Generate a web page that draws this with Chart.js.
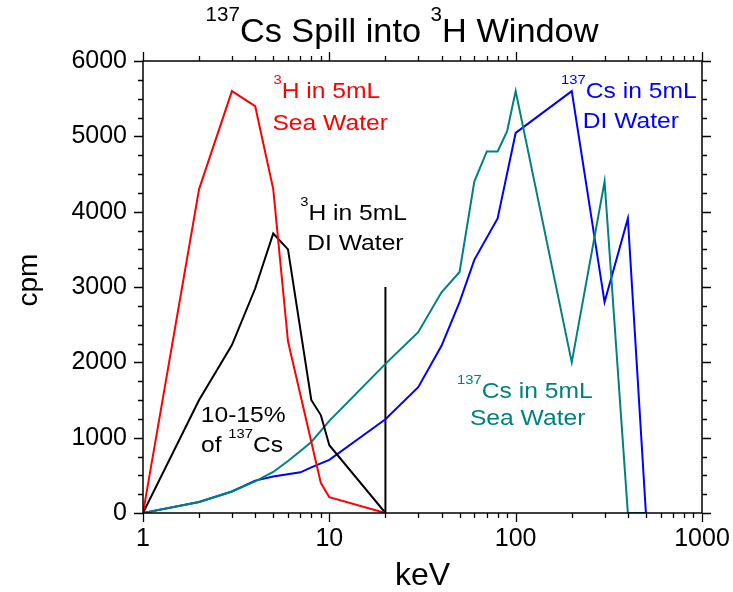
<!DOCTYPE html>
<html>
<head>
<meta charset="utf-8">
<title>137Cs Spill into 3H Window</title>
<script src="https://cdn.jsdelivr.net/npm/chart.js@4.4.1/dist/chart.umd.min.js"></script>
<style>
    html, body { margin: 0; padding: 0; background: #fff; }
    canvas { display: block; }
</style>
</head>
<body>
<canvas id="spillChart" width="733" height="592"></canvas>
<script>
const FONT = '"Liberation Sans", Arial, sans-serif';

// values (keV on a log axis, cpm)
const h3SeaKeV = [1, 2, 3, 4, 5, 6, 9, 10, 20];
const h3SeaCpm = [0, 4300, 5600, 5400, 4300, 2280, 400, 210, 0];

const h3DiKeV = [1, 2, 3, 4, 5, 6, 8, 9, 10, 20];
const h3DiCpm = [0, 1500, 2230, 2980, 3710, 3500, 1500, 1300, 900, 0];

const csSeaKeV = [1, 2, 3, 4, 5, 6, 7, 8, 9, 10, 20, 30, 40, 50, 60, 70, 80, 90, 100, 200, 300, 400, 500];
const csSeaCpm = [0, 145, 285, 420, 545, 690, 823, 943, 1090, 1223, 1980, 2400, 2930, 3200, 4400, 4800, 4800, 5070, 5600, 2000, 4400, 0, 0];

const csDiKeV = [1, 2, 3, 4, 5, 7, 8, 10, 20, 30, 40, 50, 60, 80, 100, 200, 300, 400, 500];
const csDiCpm = [0, 145, 285, 430, 485, 540, 605, 705, 1245, 1670, 2220, 2800, 3360, 3910, 5045, 5600, 2800, 3910, 0];

// the 3H window edge
const windowKeV = [20, 20];
const windowCpm = [0, 3000];

const xTickLabels = [1, 10, 100, 1000];
const yTicks = [0, 1000, 2000, 3000, 4000, 5000, 6000];

// text labels, {n} = superscript
const noteLines = [
    '{3}H in 5mL', 'Sea Water',
    '{3}H in 5mL', 'DI Water',
    '{137}Cs in 5mL', 'DI Water',
    '{137}Cs in 5mL', 'Sea Water',
    '10-15%', 'of {137}Cs'
];
const noteKeV = [9.7, 10.1, 13.5, 13.8, 405, 415, 112, 116, 3.45, 3.4];
const noteCpm = [5505, 5085, 3890, 3490, 5505, 5107, 1523, 1168, 1212, 814];
const noteColors = ['#ff0000', '#ff0000', '#000000', '#000000', '#0000ff', '#0000ff',
    '#008080', '#008080', '#000000', '#000000'];

function pts(xs, ys) {
    return xs.map((x, i) => ({x: x, y: ys[i]}));
}

function parseRich(str) {
    let parts = [];
    str.split(/(\{\d+\})/).forEach(s => {
        if (!s) return;
        if (s[0] === '{') parts.push({t: s.slice(1, -1), sup: true});
        else parts.push({t: s, sup: false});
    });
    return parts;
}

function drawRich(ctx, str, cx, y, size, color, stretch) {
    let parts = parseRich(str);
    ctx.save();
    ctx.translate(cx, y);
    ctx.scale(stretch, 1);
    ctx.fillStyle = color;
    ctx.textAlign = 'left';
    ctx.textBaseline = 'alphabetic';
    let w = 0;
    parts.forEach(p => {
        ctx.font = (p.sup ? size * 0.6 : size) + 'px ' + FONT;
        w += ctx.measureText(p.t).width;
    });
    let x = -w / 2;
    parts.forEach(p => {
        ctx.font = (p.sup ? size * 0.6 : size) + 'px ' + FONT;
        ctx.fillText(p.t, x, p.sup ? -size * 0.64 : 0);
        x += ctx.measureText(p.t).width;
    });
    ctx.restore();
}

const frameText = {
    id: 'frameText',
    afterDraw(chart) {
        const ctx = chart.ctx;
        const a = chart.chartArea;
        const xs = chart.scales.x;
        const ys = chart.scales.y;

        ctx.save();
        ctx.strokeStyle = '#000';
        ctx.lineWidth = 1.5;
        ctx.strokeRect(a.left, a.top, a.right - a.left, a.bottom - a.top);

        // ticks on all four sides, pointing out
        ctx.beginPath();
        for (let d = 1; d <= 1000; d *= 10) {
            for (let m = 1; m <= 9; m++) {
                let v = d * m;
                if (v > 1000) break;
                let px = Math.round(xs.getPixelForValue(v)) + 0.5;
                let len = m === 1 ? 9 : 5;
                ctx.moveTo(px, a.bottom);
                ctx.lineTo(px, a.bottom + len);
                ctx.moveTo(px, a.top);
                ctx.lineTo(px, a.top - len);
            }
        }
        for (let v = 0; v <= 6000; v += 250) {
            let py = Math.round(ys.getPixelForValue(v)) + 0.5;
            let len = v % 1000 === 0 ? 9 : 5;
            ctx.moveTo(a.left, py);
            ctx.lineTo(a.left - len, py);
            ctx.moveTo(a.right, py);
            ctx.lineTo(a.right + len, py);
        }
        ctx.lineWidth = 1.3;
        ctx.stroke();
        ctx.restore();

        // title
        drawRich(ctx, '{137}Cs Spill into {3}H Window', 402, 42, 33, '#000', 1.04);

        // axis titles
        drawRich(ctx, 'keV', (a.left + a.right) / 2, 585, 32, '#000', 1.0);
        ctx.save();
        ctx.translate(37, (a.top + a.bottom) / 2 - 7);
        ctx.rotate(-Math.PI / 2);
        drawRich(ctx, 'cpm', 0, 0, 28, '#000', 1.0);
        ctx.restore();

        // series labels
        noteLines.forEach((s, i) => {
            drawRich(ctx, s, xs.getPixelForValue(noteKeV[i]), ys.getPixelForValue(noteCpm[i]),
                22, noteColors[i], 1.12);
        });
    }
};

function lineSet(label, data, color) {
    return {
        label: label,
        data: data,
        borderColor: color,
        backgroundColor: color,
        borderWidth: 2,
        pointRadius: 0,
        tension: 0,
        fill: false
    };
}

let ctx = document.getElementById('spillChart').getContext('2d');

let spillChart = new Chart(ctx, {
    type: 'line',
    data: {
        datasets: [
            lineSet('3H in 5mL Sea Water', pts(h3SeaKeV, h3SeaCpm), '#ff0000'),
            lineSet('3H in 5mL DI Water', pts(h3DiKeV, h3DiCpm), '#000000'),
            lineSet('137Cs in 5mL Sea Water', pts(csSeaKeV, csSeaCpm), '#008080'),
            lineSet('137Cs in 5mL DI Water', pts(csDiKeV, csDiCpm), '#0000ff'),
            lineSet('3H window', pts(windowKeV, windowCpm), '#000000')
        ]
    },
    options: {
        responsive: false,
        animation: false,
        layout: {
            padding: {left: 0, top: 61, right: 31, bottom: 0}
        },
        plugins: {
            legend: {display: false},
            tooltip: {enabled: false},
            title: {display: false}
        },
        scales: {
            x: {
                type: 'logarithmic',
                min: 1,
                max: 1000,
                grid: {display: false, drawTicks: false},
                border: {display: false},
                ticks: {
                    autoSkip: false,
                    maxRotation: 0,
                    padding: 11,
                    color: '#000',
                    font: {family: FONT, size: 25},
                    callback: (v) => xTickLabels.includes(v) ? String(v) : ''
                },
                afterFit: (scale) => {
                    scale.height = 79;
                    scale.paddingLeft = 0;
                    scale.paddingRight = 0;
                }
            },
            y: {
                min: 0,
                max: 6000,
                afterBuildTicks: (scale) => { scale.ticks = yTicks.map(v => ({value: v})); },
                grid: {display: false, drawTicks: false},
                border: {display: false},
                ticks: {
                    padding: 16,
                    color: '#000',
                    font: {family: FONT, size: 25},
                    callback: (v) => String(v)
                },
                afterFit: (scale) => {
                    scale.width = 143;
                    scale.paddingTop = 0;
                    scale.paddingBottom = 0;
                }
            }
        }
    },
    plugins: [frameText]
});
</script>
</body>
</html>
